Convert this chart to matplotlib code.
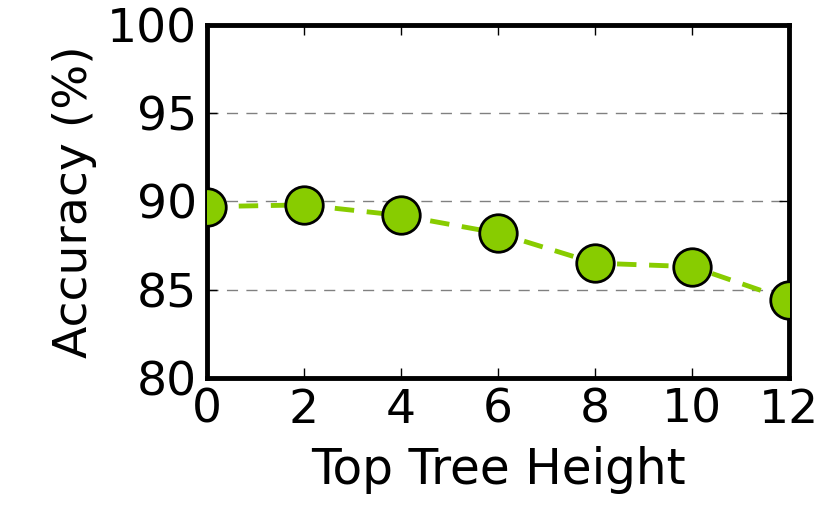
import matplotlib
matplotlib.use('Agg')
import matplotlib.pyplot as plt

heights = [0, 2, 4, 6, 8, 10, 12]
accuracy = [89.7, 89.8, 89.2, 88.2, 86.5, 86.3, 84.4]
yticks = [80, 85, 90, 95, 100]
xticks = [0, 2, 4, 6, 8, 10, 12]

plt.rcParams['font.family'] = 'DejaVu Sans'

fig = plt.figure(figsize=(8.3, 5.19), dpi=100)
ax = fig.add_axes([0.249, 0.272, 0.702, 0.680])

ax.plot(heights, accuracy, color='#88cc00', linestyle='--', linewidth=3.5,
        dashes=(4, 2.6), marker='o', markersize=27, markerfacecolor='#88cc00',
        markeredgecolor='black', markeredgewidth=2, zorder=3)

ax.set_xlim(0, 12)
ax.set_ylim(80, 100)
ax.set_xticks(xticks)
ax.set_yticks(yticks)
ax.yaxis.grid(True, linestyle=(0, (8, 6)), color='gray', linewidth=1)
ax.set_axisbelow(True)

for s in ax.spines.values():
    s.set_linewidth(3.5)
ax.tick_params(direction='in', top=True, right=True, length=7, width=1,
               labelsize=34, pad=7)
ax.set_xlabel('Top Tree Height', fontsize=35, labelpad=10)
ax.set_ylabel('Accuracy (%)', fontsize=34, labelpad=7)

fig.savefig('out.png', dpi=100)
